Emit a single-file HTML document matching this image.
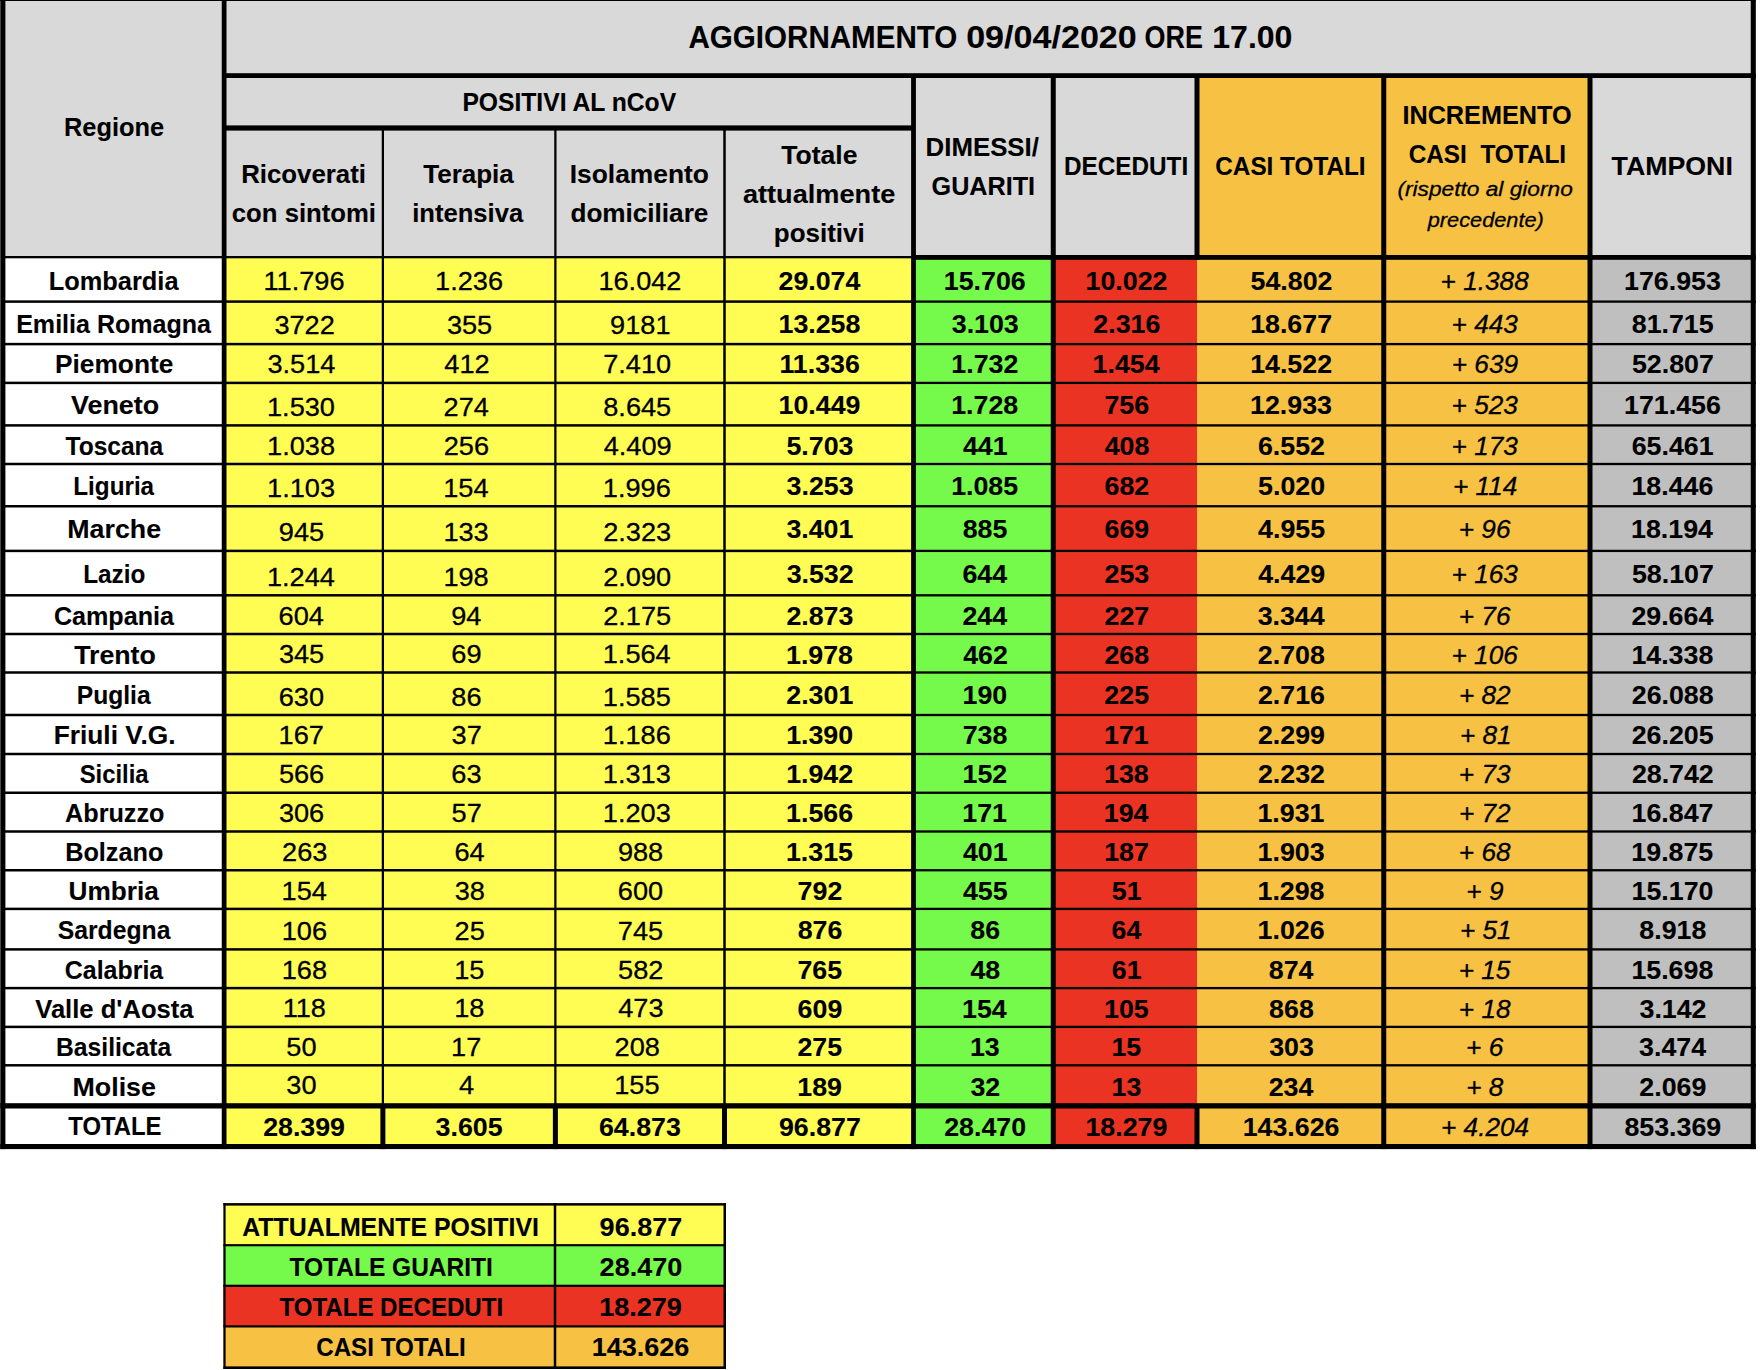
<!DOCTYPE html>
<html lang="it"><head><meta charset="utf-8"><title>Aggiornamento 09/04/2020 ore 17.00</title>
<style>
html,body{margin:0;padding:0;background:#fff;}
body{width:1760px;height:1370px;overflow:hidden;}
svg{display:block;}
svg text{font-family:"Liberation Sans",sans-serif;fill:#000;stroke:#000;white-space:pre;stroke-linejoin:round;}
</style></head><body>
<svg width="1760" height="1370" viewBox="0 0 1760 1370">
<g shape-rendering="auto">
<rect x="0.30" y="0.00" width="1755.50" height="258.00" fill="#D9D9D9"/>
<rect x="1197.00" y="76.00" width="393.00" height="182.00" fill="#F7C243"/>
<rect x="3.00" y="257.50" width="221.00" height="889.00" fill="#fff"/>
<rect x="224.00" y="257.50" width="690.00" height="889.00" fill="#FFFD54"/>
<rect x="914.00" y="257.50" width="139.00" height="889.00" fill="#75FA4C"/>
<rect x="1053.00" y="257.50" width="144.00" height="889.00" fill="#EA3323"/>
<rect x="1197.00" y="257.50" width="393.00" height="889.00" fill="#F7C243"/>
<rect x="1590.00" y="257.50" width="163.00" height="889.00" fill="#BFBFBF"/>
<rect x="0.30" y="0.00" width="1755.50" height="1.00" fill="#000"/>
<rect x="0.30" y="0.00" width="5.10" height="1149.10" fill="#000"/>
<rect x="1750.75" y="0.00" width="5.05" height="1149.10" fill="#000"/>
<rect x="221.75" y="0.00" width="4.75" height="1149.10" fill="#000"/>
<rect x="224.00" y="73.20" width="1531.80" height="4.80" fill="#000"/>
<rect x="224.00" y="125.40" width="690.00" height="5.20" fill="#000"/>
<rect x="381.75" y="127.00" width="2.25" height="978.40" fill="#000"/>
<rect x="380.38" y="1105.00" width="5.00" height="44.10" fill="#000"/>
<rect x="554.25" y="127.00" width="2.25" height="978.40" fill="#000"/>
<rect x="552.88" y="1105.00" width="5.00" height="44.10" fill="#000"/>
<rect x="723.25" y="127.00" width="2.50" height="978.40" fill="#000"/>
<rect x="722.00" y="1105.00" width="5.00" height="44.10" fill="#000"/>
<rect x="911.10" y="76.00" width="4.80" height="1073.10" fill="#000"/>
<rect x="1050.75" y="76.00" width="5.00" height="1073.10" fill="#000"/>
<rect x="1381.25" y="76.00" width="5.00" height="1073.10" fill="#000"/>
<rect x="1587.50" y="76.00" width="5.00" height="1073.10" fill="#000"/>
<rect x="1194.50" y="76.00" width="5.00" height="183.80" fill="#000"/>
<rect x="1194.50" y="1105.00" width="5.00" height="44.10" fill="#000"/>
<rect x="3.00" y="256.00" width="911.00" height="2.30" fill="#000"/>
<rect x="914.00" y="255.00" width="841.80" height="4.80" fill="#000"/>
<rect x="3.00" y="300.35" width="911.00" height="2.50" fill="#000"/>
<rect x="914.00" y="300.45" width="841.80" height="2.30" fill="#000"/>
<rect x="3.00" y="342.85" width="911.00" height="2.50" fill="#000"/>
<rect x="914.00" y="342.95" width="841.80" height="2.30" fill="#000"/>
<rect x="3.00" y="381.65" width="911.00" height="2.50" fill="#000"/>
<rect x="914.00" y="381.75" width="841.80" height="2.30" fill="#000"/>
<rect x="3.00" y="424.15" width="911.00" height="2.50" fill="#000"/>
<rect x="914.00" y="424.25" width="841.80" height="2.30" fill="#000"/>
<rect x="3.00" y="462.75" width="911.00" height="2.50" fill="#000"/>
<rect x="914.00" y="462.85" width="841.80" height="2.30" fill="#000"/>
<rect x="3.00" y="505.00" width="911.00" height="2.50" fill="#000"/>
<rect x="914.00" y="505.10" width="841.80" height="2.30" fill="#000"/>
<rect x="3.00" y="549.65" width="911.00" height="2.50" fill="#000"/>
<rect x="914.00" y="549.75" width="841.80" height="2.30" fill="#000"/>
<rect x="3.00" y="594.05" width="911.00" height="2.50" fill="#000"/>
<rect x="914.00" y="594.15" width="841.80" height="2.30" fill="#000"/>
<rect x="3.00" y="632.75" width="911.00" height="2.50" fill="#000"/>
<rect x="914.00" y="632.85" width="841.80" height="2.30" fill="#000"/>
<rect x="3.00" y="671.25" width="911.00" height="2.50" fill="#000"/>
<rect x="914.00" y="671.35" width="841.80" height="2.30" fill="#000"/>
<rect x="3.00" y="713.75" width="911.00" height="2.50" fill="#000"/>
<rect x="914.00" y="713.85" width="841.80" height="2.30" fill="#000"/>
<rect x="3.00" y="752.75" width="911.00" height="2.50" fill="#000"/>
<rect x="914.00" y="752.85" width="841.80" height="2.30" fill="#000"/>
<rect x="3.00" y="791.50" width="911.00" height="2.50" fill="#000"/>
<rect x="914.00" y="791.60" width="841.80" height="2.30" fill="#000"/>
<rect x="3.00" y="830.25" width="911.00" height="2.50" fill="#000"/>
<rect x="914.00" y="830.35" width="841.80" height="2.30" fill="#000"/>
<rect x="3.00" y="869.00" width="911.00" height="2.50" fill="#000"/>
<rect x="914.00" y="869.10" width="841.80" height="2.30" fill="#000"/>
<rect x="3.00" y="907.65" width="911.00" height="2.50" fill="#000"/>
<rect x="914.00" y="907.75" width="841.80" height="2.30" fill="#000"/>
<rect x="3.00" y="948.15" width="911.00" height="2.50" fill="#000"/>
<rect x="914.00" y="948.25" width="841.80" height="2.30" fill="#000"/>
<rect x="3.00" y="986.85" width="911.00" height="2.50" fill="#000"/>
<rect x="914.00" y="986.95" width="841.80" height="2.30" fill="#000"/>
<rect x="3.00" y="1025.65" width="911.00" height="2.50" fill="#000"/>
<rect x="914.00" y="1025.75" width="841.80" height="2.30" fill="#000"/>
<rect x="3.00" y="1064.05" width="911.00" height="2.50" fill="#000"/>
<rect x="914.00" y="1064.15" width="841.80" height="2.30" fill="#000"/>
<rect x="0.30" y="1103.20" width="1755.50" height="5.30" fill="#000"/>
<rect x="0.30" y="1144.00" width="1755.50" height="5.10" fill="#000"/>
<rect x="223.40" y="1204.40" width="502.60" height="40.80" fill="#FFFD54"/>
<rect x="223.40" y="1245.20" width="502.60" height="40.60" fill="#75FA4C"/>
<rect x="223.40" y="1285.80" width="502.60" height="40.60" fill="#EA3323"/>
<rect x="223.40" y="1326.40" width="502.60" height="41.30" fill="#F7C243"/>
<rect x="223.40" y="1244.10" width="502.60" height="2.20" fill="#000"/>
<rect x="223.40" y="1284.70" width="502.60" height="2.20" fill="#000"/>
<rect x="223.40" y="1325.30" width="502.60" height="2.20" fill="#000"/>
<rect x="223.40" y="1203.10" width="502.60" height="2.50" fill="#000"/>
<rect x="223.40" y="1366.40" width="502.60" height="2.60" fill="#000"/>
<rect x="223.40" y="1203.10" width="2.20" height="165.90" fill="#000"/>
<rect x="553.75" y="1203.10" width="2.50" height="165.90" fill="#000"/>
<rect x="723.50" y="1203.10" width="2.50" height="165.90" fill="#000"/>
</g>
<g>
<text transform="translate(688.51 47.50) scale(0.9637 1)" font-size="30.7" font-weight="bold" stroke-width="0.1">AGGIORNAMENTO</text>
<text transform="translate(966.14 47.50) scale(1.1111 1)" font-size="30.7" font-weight="bold" stroke-width="0.1">09/04/2020</text>
<text transform="translate(1144.52 47.50) scale(0.8775 1)" font-size="30.7" font-weight="bold" stroke-width="0.1">ORE</text>
<text transform="translate(1212.28 47.50) scale(1.0437 1)" font-size="30.7" font-weight="bold" stroke-width="0.1">17.00</text>
<text transform="translate(63.95 135.70) scale(0.9763 1)" font-size="26.0" font-weight="bold" stroke-width="0.1">Regione</text>
<text transform="translate(462.40 110.70) scale(0.9487 1)" font-size="26.0" font-weight="bold" stroke-width="0.1">POSITIVI AL nCoV</text>
<text transform="translate(241.22 182.80) scale(0.9924 1)" font-size="26.0" font-weight="bold" stroke-width="0.1">Ricoverati</text>
<text transform="translate(231.82 222.20) scale(0.9886 1)" font-size="26.0" font-weight="bold" stroke-width="0.1">con sintomi</text>
<text transform="translate(423.24 182.80) scale(1.0002 1)" font-size="26.0" font-weight="bold" stroke-width="0.1">Terapia</text>
<text transform="translate(412.21 222.20) scale(0.9852 1)" font-size="26.0" font-weight="bold" stroke-width="0.1">intensiva</text>
<text transform="translate(569.79 182.70) scale(1.0145 1)" font-size="26.0" font-weight="bold" stroke-width="0.1">Isolamento</text>
<text transform="translate(570.45 222.40) scale(1.0050 1)" font-size="26.0" font-weight="bold" stroke-width="0.1">domiciliare</text>
<text transform="translate(781.23 164.30) scale(1.0211 1)" font-size="26.0" font-weight="bold" stroke-width="0.1">Totale</text>
<text transform="translate(742.89 203.20) scale(1.0446 1)" font-size="26.0" font-weight="bold" stroke-width="0.1">attualmente</text>
<text transform="translate(773.86 241.60) scale(0.9986 1)" font-size="26.0" font-weight="bold" stroke-width="0.1">positivi</text>
<text transform="translate(925.57 155.50) scale(0.9938 1)" font-size="26.0" font-weight="bold" stroke-width="0.1">DIMESSI/</text>
<text transform="translate(931.54 195.30) scale(0.9690 1)" font-size="26.0" font-weight="bold" stroke-width="0.1">GUARITI</text>
<text transform="translate(1064.02 175.00) scale(0.9345 1)" font-size="26.0" font-weight="bold" stroke-width="0.1">DECEDUTI</text>
<text transform="translate(1215.33 175.20) scale(0.9345 1)" font-size="26.0" font-weight="bold" stroke-width="0.1">CASI TOTALI</text>
<text transform="translate(1402.41 124.00) scale(0.9710 1)" font-size="26.0" font-weight="bold" stroke-width="0.1">INCREMENTO</text>
<text transform="translate(1408.68 162.90) scale(0.9375 1)" font-size="26.0" font-weight="bold" stroke-width="0.1">CASI  TOTALI</text>
<text transform="translate(1397.43 195.50) scale(1.0812 1)" font-size="21.0" font-style="italic" stroke-width="0.3">(rispetto al giorno</text>
<text transform="translate(1427.74 227.40) scale(1.0359 1)" font-size="21.0" font-style="italic" stroke-width="0.3">precedente)</text>
<text transform="translate(1611.58 175.00) scale(1.0288 1)" font-size="26.0" font-weight="bold" stroke-width="0.1">TAMPONI</text>
<text transform="translate(48.75 290.20) scale(0.9769 1)" font-size="26.0" font-weight="bold" stroke-width="0.1">Lombardia</text>
<text transform="translate(263.47 290.20) scale(1.0450 1)" font-size="26.0" stroke-width="0.3">11.796</text>
<text transform="translate(435.06 290.20) scale(1.0450 1)" font-size="26.0" stroke-width="0.3">1.236</text>
<text transform="translate(598.39 290.20) scale(1.0450 1)" font-size="26.0" stroke-width="0.3">16.042</text>
<text transform="translate(778.52 290.20) scale(1.0300 1)" font-size="26.0" font-weight="bold" stroke-width="0.1">29.074</text>
<text transform="translate(943.79 290.20) scale(1.0300 1)" font-size="26.0" font-weight="bold" stroke-width="0.1">15.706</text>
<text transform="translate(1085.56 290.20) scale(1.0300 1)" font-size="26.0" font-weight="bold" stroke-width="0.1">10.022</text>
<text transform="translate(1250.56 290.20) scale(1.0300 1)" font-size="26.0" font-weight="bold" stroke-width="0.1">54.802</text>
<text transform="translate(1440.62 290.20) scale(1.0080 1)" font-size="26.0" font-style="italic" stroke-width="0.3">+ 1.388</text>
<text transform="translate(1624.06 290.20) scale(1.0300 1)" font-size="26.0" font-weight="bold" stroke-width="0.1">176.953</text>
<text transform="translate(16.17 332.95) scale(0.9639 1)" font-size="26.0" font-weight="bold" stroke-width="0.1">Emilia Romagna</text>
<text transform="translate(274.41 334.45) scale(1.0450 1)" font-size="26.0" stroke-width="0.3">3722</text>
<text transform="translate(446.88 334.45) scale(1.0450 1)" font-size="26.0" stroke-width="0.3">355</text>
<text transform="translate(610.07 334.45) scale(1.0450 1)" font-size="26.0" stroke-width="0.3">9181</text>
<text transform="translate(778.52 332.95) scale(1.0300 1)" font-size="26.0" font-weight="bold" stroke-width="0.1">13.258</text>
<text transform="translate(951.76 332.95) scale(1.0300 1)" font-size="26.0" font-weight="bold" stroke-width="0.1">3.103</text>
<text transform="translate(1093.33 332.95) scale(1.0300 1)" font-size="26.0" font-weight="bold" stroke-width="0.1">2.316</text>
<text transform="translate(1250.16 332.95) scale(1.0300 1)" font-size="26.0" font-weight="bold" stroke-width="0.1">18.677</text>
<text transform="translate(1451.56 332.95) scale(1.0080 1)" font-size="26.0" font-style="italic" stroke-width="0.3">+ 443</text>
<text transform="translate(1631.76 332.95) scale(1.0300 1)" font-size="26.0" font-weight="bold" stroke-width="0.1">81.715</text>
<text transform="translate(55.04 372.95) scale(1.0114 1)" font-size="26.0" font-weight="bold" stroke-width="0.1">Piemonte</text>
<text transform="translate(267.40 372.70) scale(1.0450 1)" font-size="26.0" stroke-width="0.3">3.514</text>
<text transform="translate(444.29 372.70) scale(1.0450 1)" font-size="26.0" stroke-width="0.3">412</text>
<text transform="translate(603.13 372.70) scale(1.0450 1)" font-size="26.0" stroke-width="0.3">7.410</text>
<text transform="translate(779.40 372.95) scale(1.0300 1)" font-size="26.0" font-weight="bold" stroke-width="0.1">11.336</text>
<text transform="translate(951.36 372.95) scale(1.0300 1)" font-size="26.0" font-weight="bold" stroke-width="0.1">1.732</text>
<text transform="translate(1092.59 372.95) scale(1.0300 1)" font-size="26.0" font-weight="bold" stroke-width="0.1">1.454</text>
<text transform="translate(1250.16 372.95) scale(1.0300 1)" font-size="26.0" font-weight="bold" stroke-width="0.1">14.522</text>
<text transform="translate(1451.76 372.95) scale(1.0080 1)" font-size="26.0" font-style="italic" stroke-width="0.3">+ 639</text>
<text transform="translate(1631.96 372.95) scale(1.0300 1)" font-size="26.0" font-weight="bold" stroke-width="0.1">52.807</text>
<text transform="translate(71.02 413.55) scale(1.0332 1)" font-size="26.0" font-weight="bold" stroke-width="0.1">Veneto</text>
<text transform="translate(266.99 415.70) scale(1.0450 1)" font-size="26.0" stroke-width="0.3">1.530</text>
<text transform="translate(443.61 415.70) scale(1.0450 1)" font-size="26.0" stroke-width="0.3">274</text>
<text transform="translate(603.27 415.70) scale(1.0450 1)" font-size="26.0" stroke-width="0.3">8.645</text>
<text transform="translate(778.59 413.55) scale(1.0300 1)" font-size="26.0" font-weight="bold" stroke-width="0.1">10.449</text>
<text transform="translate(951.22 413.55) scale(1.0300 1)" font-size="26.0" font-weight="bold" stroke-width="0.1">1.728</text>
<text transform="translate(1104.44 413.55) scale(1.0300 1)" font-size="26.0" font-weight="bold" stroke-width="0.1">756</text>
<text transform="translate(1250.09 413.55) scale(1.0300 1)" font-size="26.0" font-weight="bold" stroke-width="0.1">12.933</text>
<text transform="translate(1451.56 413.55) scale(1.0080 1)" font-size="26.0" font-style="italic" stroke-width="0.3">+ 523</text>
<text transform="translate(1624.06 413.55) scale(1.0300 1)" font-size="26.0" font-weight="bold" stroke-width="0.1">171.456</text>
<text transform="translate(65.55 454.70) scale(0.9432 1)" font-size="26.0" font-weight="bold" stroke-width="0.1">Toscana</text>
<text transform="translate(267.06 454.70) scale(1.0450 1)" font-size="26.0" stroke-width="0.3">1.038</text>
<text transform="translate(443.75 454.70) scale(1.0450 1)" font-size="26.0" stroke-width="0.3">256</text>
<text transform="translate(603.68 454.70) scale(1.0450 1)" font-size="26.0" stroke-width="0.3">4.409</text>
<text transform="translate(786.49 454.70) scale(1.0300 1)" font-size="26.0" font-weight="bold" stroke-width="0.1">5.703</text>
<text transform="translate(962.94 454.70) scale(1.0300 1)" font-size="26.0" font-weight="bold" stroke-width="0.1">441</text>
<text transform="translate(1104.71 454.70) scale(1.0300 1)" font-size="26.0" font-weight="bold" stroke-width="0.1">408</text>
<text transform="translate(1257.99 454.70) scale(1.0300 1)" font-size="26.0" font-weight="bold" stroke-width="0.1">6.552</text>
<text transform="translate(1451.56 454.70) scale(1.0080 1)" font-size="26.0" font-style="italic" stroke-width="0.3">+ 173</text>
<text transform="translate(1631.69 454.70) scale(1.0300 1)" font-size="26.0" font-weight="bold" stroke-width="0.1">65.461</text>
<text transform="translate(73.32 495.20) scale(0.9325 1)" font-size="26.0" font-weight="bold" stroke-width="0.1">Liguria</text>
<text transform="translate(267.06 496.85) scale(1.0450 1)" font-size="26.0" stroke-width="0.3">1.103</text>
<text transform="translate(443.27 496.85) scale(1.0450 1)" font-size="26.0" stroke-width="0.3">154</text>
<text transform="translate(602.86 496.85) scale(1.0450 1)" font-size="26.0" stroke-width="0.3">1.996</text>
<text transform="translate(786.56 495.20) scale(1.0300 1)" font-size="26.0" font-weight="bold" stroke-width="0.1">3.253</text>
<text transform="translate(951.16 495.20) scale(1.0300 1)" font-size="26.0" font-weight="bold" stroke-width="0.1">1.085</text>
<text transform="translate(1104.57 495.20) scale(1.0300 1)" font-size="26.0" font-weight="bold" stroke-width="0.1">682</text>
<text transform="translate(1258.06 495.20) scale(1.0300 1)" font-size="26.0" font-weight="bold" stroke-width="0.1">5.020</text>
<text transform="translate(1452.94 495.20) scale(1.0080 1)" font-size="26.0" font-style="italic" stroke-width="0.3">+ 114</text>
<text transform="translate(1631.49 495.20) scale(1.0300 1)" font-size="26.0" font-weight="bold" stroke-width="0.1">18.446</text>
<text transform="translate(67.31 538.45) scale(1.0305 1)" font-size="26.0" font-weight="bold" stroke-width="0.1">Marche</text>
<text transform="translate(278.81 540.55) scale(1.0450 1)" font-size="26.0" stroke-width="0.3">945</text>
<text transform="translate(443.41 540.55) scale(1.0450 1)" font-size="26.0" stroke-width="0.3">133</text>
<text transform="translate(603.20 540.55) scale(1.0450 1)" font-size="26.0" stroke-width="0.3">2.323</text>
<text transform="translate(786.42 538.45) scale(1.0300 1)" font-size="26.0" font-weight="bold" stroke-width="0.1">3.401</text>
<text transform="translate(962.74 538.45) scale(1.0300 1)" font-size="26.0" font-weight="bold" stroke-width="0.1">885</text>
<text transform="translate(1104.51 538.45) scale(1.0300 1)" font-size="26.0" font-weight="bold" stroke-width="0.1">669</text>
<text transform="translate(1258.06 538.45) scale(1.0300 1)" font-size="26.0" font-weight="bold" stroke-width="0.1">4.955</text>
<text transform="translate(1458.77 538.45) scale(1.0080 1)" font-size="26.0" font-style="italic" stroke-width="0.3">+ 96</text>
<text transform="translate(1631.09 538.45) scale(1.0300 1)" font-size="26.0" font-weight="bold" stroke-width="0.1">18.194</text>
<text transform="translate(83.22 583.45) scale(0.9356 1)" font-size="26.0" font-weight="bold" stroke-width="0.1">Lazio</text>
<text transform="translate(266.93 585.55) scale(1.0450 1)" font-size="26.0" stroke-width="0.3">1.244</text>
<text transform="translate(443.41 585.55) scale(1.0450 1)" font-size="26.0" stroke-width="0.3">198</text>
<text transform="translate(603.13 585.55) scale(1.0450 1)" font-size="26.0" stroke-width="0.3">2.090</text>
<text transform="translate(786.63 583.45) scale(1.0300 1)" font-size="26.0" font-weight="bold" stroke-width="0.1">3.532</text>
<text transform="translate(962.40 583.45) scale(1.0300 1)" font-size="26.0" font-weight="bold" stroke-width="0.1">644</text>
<text transform="translate(1104.51 583.45) scale(1.0300 1)" font-size="26.0" font-weight="bold" stroke-width="0.1">253</text>
<text transform="translate(1258.19 583.45) scale(1.0300 1)" font-size="26.0" font-weight="bold" stroke-width="0.1">4.429</text>
<text transform="translate(1451.56 583.45) scale(1.0080 1)" font-size="26.0" font-style="italic" stroke-width="0.3">+ 163</text>
<text transform="translate(1631.96 583.45) scale(1.0300 1)" font-size="26.0" font-weight="bold" stroke-width="0.1">58.107</text>
<text transform="translate(53.89 624.70) scale(0.9668 1)" font-size="26.0" font-weight="bold" stroke-width="0.1">Campania</text>
<text transform="translate(278.61 624.95) scale(1.0450 1)" font-size="26.0" stroke-width="0.3">604</text>
<text transform="translate(451.22 624.95) scale(1.0450 1)" font-size="26.0" stroke-width="0.3">94</text>
<text transform="translate(603.20 624.95) scale(1.0450 1)" font-size="26.0" stroke-width="0.3">2.175</text>
<text transform="translate(786.42 624.70) scale(1.0300 1)" font-size="26.0" font-weight="bold" stroke-width="0.1">2.873</text>
<text transform="translate(962.40 624.70) scale(1.0300 1)" font-size="26.0" font-weight="bold" stroke-width="0.1">244</text>
<text transform="translate(1104.57 624.70) scale(1.0300 1)" font-size="26.0" font-weight="bold" stroke-width="0.1">227</text>
<text transform="translate(1257.66 624.70) scale(1.0300 1)" font-size="26.0" font-weight="bold" stroke-width="0.1">3.344</text>
<text transform="translate(1458.77 624.70) scale(1.0080 1)" font-size="26.0" font-style="italic" stroke-width="0.3">+ 76</text>
<text transform="translate(1631.42 624.70) scale(1.0300 1)" font-size="26.0" font-weight="bold" stroke-width="0.1">29.664</text>
<text transform="translate(74.13 663.70) scale(1.0291 1)" font-size="26.0" font-weight="bold" stroke-width="0.1">Trento</text>
<text transform="translate(278.88 663.05) scale(1.0450 1)" font-size="26.0" stroke-width="0.3">345</text>
<text transform="translate(451.35 663.05) scale(1.0450 1)" font-size="26.0" stroke-width="0.3">69</text>
<text transform="translate(602.73 663.05) scale(1.0450 1)" font-size="26.0" stroke-width="0.3">1.564</text>
<text transform="translate(786.02 663.70) scale(1.0300 1)" font-size="26.0" font-weight="bold" stroke-width="0.1">1.978</text>
<text transform="translate(963.14 663.70) scale(1.0300 1)" font-size="26.0" font-weight="bold" stroke-width="0.1">462</text>
<text transform="translate(1104.44 663.70) scale(1.0300 1)" font-size="26.0" font-weight="bold" stroke-width="0.1">268</text>
<text transform="translate(1257.86 663.70) scale(1.0300 1)" font-size="26.0" font-weight="bold" stroke-width="0.1">2.708</text>
<text transform="translate(1451.50 663.70) scale(1.0080 1)" font-size="26.0" font-style="italic" stroke-width="0.3">+ 106</text>
<text transform="translate(1631.42 663.70) scale(1.0300 1)" font-size="26.0" font-weight="bold" stroke-width="0.1">14.338</text>
<text transform="translate(76.70 704.35) scale(0.9482 1)" font-size="26.0" font-weight="bold" stroke-width="0.1">Puglia</text>
<text transform="translate(278.68 706.20) scale(1.0450 1)" font-size="26.0" stroke-width="0.3">630</text>
<text transform="translate(451.35 706.20) scale(1.0450 1)" font-size="26.0" stroke-width="0.3">86</text>
<text transform="translate(602.86 706.20) scale(1.0450 1)" font-size="26.0" stroke-width="0.3">1.585</text>
<text transform="translate(786.29 704.35) scale(1.0300 1)" font-size="26.0" font-weight="bold" stroke-width="0.1">2.301</text>
<text transform="translate(962.54 704.35) scale(1.0300 1)" font-size="26.0" font-weight="bold" stroke-width="0.1">190</text>
<text transform="translate(1104.37 704.35) scale(1.0300 1)" font-size="26.0" font-weight="bold" stroke-width="0.1">225</text>
<text transform="translate(1257.93 704.35) scale(1.0300 1)" font-size="26.0" font-weight="bold" stroke-width="0.1">2.716</text>
<text transform="translate(1458.96 704.35) scale(1.0080 1)" font-size="26.0" font-style="italic" stroke-width="0.3">+ 82</text>
<text transform="translate(1631.76 704.35) scale(1.0300 1)" font-size="26.0" font-weight="bold" stroke-width="0.1">26.088</text>
<text transform="translate(53.69 744.35) scale(1.0120 1)" font-size="26.0" font-weight="bold" stroke-width="0.1">Friuli V.G.</text>
<text transform="translate(278.54 743.95) scale(1.0450 1)" font-size="26.0" stroke-width="0.3">167</text>
<text transform="translate(451.56 743.95) scale(1.0450 1)" font-size="26.0" stroke-width="0.3">37</text>
<text transform="translate(602.86 743.95) scale(1.0450 1)" font-size="26.0" stroke-width="0.3">1.186</text>
<text transform="translate(786.16 744.35) scale(1.0300 1)" font-size="26.0" font-weight="bold" stroke-width="0.1">1.390</text>
<text transform="translate(962.67 744.35) scale(1.0300 1)" font-size="26.0" font-weight="bold" stroke-width="0.1">738</text>
<text transform="translate(1104.04 744.35) scale(1.0300 1)" font-size="26.0" font-weight="bold" stroke-width="0.1">171</text>
<text transform="translate(1257.93 744.35) scale(1.0300 1)" font-size="26.0" font-weight="bold" stroke-width="0.1">2.299</text>
<text transform="translate(1459.88 744.35) scale(1.0080 1)" font-size="26.0" font-style="italic" stroke-width="0.3">+ 81</text>
<text transform="translate(1631.69 744.35) scale(1.0300 1)" font-size="26.0" font-weight="bold" stroke-width="0.1">26.205</text>
<text transform="translate(79.69 782.95) scale(0.9166 1)" font-size="26.0" font-weight="bold" stroke-width="0.1">Sicilia</text>
<text transform="translate(278.88 783.35) scale(1.0450 1)" font-size="26.0" stroke-width="0.3">566</text>
<text transform="translate(451.28 783.35) scale(1.0450 1)" font-size="26.0" stroke-width="0.3">63</text>
<text transform="translate(602.86 783.35) scale(1.0450 1)" font-size="26.0" stroke-width="0.3">1.313</text>
<text transform="translate(786.16 782.95) scale(1.0300 1)" font-size="26.0" font-weight="bold" stroke-width="0.1">1.942</text>
<text transform="translate(962.54 782.95) scale(1.0300 1)" font-size="26.0" font-weight="bold" stroke-width="0.1">152</text>
<text transform="translate(1104.10 782.95) scale(1.0300 1)" font-size="26.0" font-weight="bold" stroke-width="0.1">138</text>
<text transform="translate(1257.99 782.95) scale(1.0300 1)" font-size="26.0" font-weight="bold" stroke-width="0.1">2.232</text>
<text transform="translate(1458.83 782.95) scale(1.0080 1)" font-size="26.0" font-style="italic" stroke-width="0.3">+ 73</text>
<text transform="translate(1631.89 782.95) scale(1.0300 1)" font-size="26.0" font-weight="bold" stroke-width="0.1">28.742</text>
<text transform="translate(65.02 822.05) scale(0.9705 1)" font-size="26.0" font-weight="bold" stroke-width="0.1">Abruzzo</text>
<text transform="translate(278.88 822.05) scale(1.0450 1)" font-size="26.0" stroke-width="0.3">306</text>
<text transform="translate(451.56 822.05) scale(1.0450 1)" font-size="26.0" stroke-width="0.3">57</text>
<text transform="translate(602.86 822.05) scale(1.0450 1)" font-size="26.0" stroke-width="0.3">1.203</text>
<text transform="translate(786.09 822.05) scale(1.0300 1)" font-size="26.0" font-weight="bold" stroke-width="0.1">1.566</text>
<text transform="translate(962.34 822.05) scale(1.0300 1)" font-size="26.0" font-weight="bold" stroke-width="0.1">171</text>
<text transform="translate(1103.77 822.05) scale(1.0300 1)" font-size="26.0" font-weight="bold" stroke-width="0.1">194</text>
<text transform="translate(1257.46 822.05) scale(1.0300 1)" font-size="26.0" font-weight="bold" stroke-width="0.1">1.931</text>
<text transform="translate(1458.96 822.05) scale(1.0080 1)" font-size="26.0" font-style="italic" stroke-width="0.3">+ 72</text>
<text transform="translate(1631.56 822.05) scale(1.0300 1)" font-size="26.0" font-weight="bold" stroke-width="0.1">16.847</text>
<text transform="translate(65.16 860.85) scale(0.9714 1)" font-size="26.0" font-weight="bold" stroke-width="0.1">Bolzano</text>
<text transform="translate(282.05 861.20) scale(1.0450 1)" font-size="26.0" stroke-width="0.3">263</text>
<text transform="translate(454.45 861.20) scale(1.0450 1)" font-size="26.0" stroke-width="0.3">64</text>
<text transform="translate(617.91 861.20) scale(1.0450 1)" font-size="26.0" stroke-width="0.3">988</text>
<text transform="translate(785.96 860.85) scale(1.0300 1)" font-size="26.0" font-weight="bold" stroke-width="0.1">1.315</text>
<text transform="translate(962.94 860.85) scale(1.0300 1)" font-size="26.0" font-weight="bold" stroke-width="0.1">401</text>
<text transform="translate(1104.24 860.85) scale(1.0300 1)" font-size="26.0" font-weight="bold" stroke-width="0.1">187</text>
<text transform="translate(1257.59 860.85) scale(1.0300 1)" font-size="26.0" font-weight="bold" stroke-width="0.1">1.903</text>
<text transform="translate(1458.83 860.85) scale(1.0080 1)" font-size="26.0" font-style="italic" stroke-width="0.3">+ 68</text>
<text transform="translate(1631.36 860.85) scale(1.0300 1)" font-size="26.0" font-weight="bold" stroke-width="0.1">19.875</text>
<text transform="translate(68.58 899.55) scale(1.0071 1)" font-size="26.0" font-weight="bold" stroke-width="0.1">Umbria</text>
<text transform="translate(281.57 899.95) scale(1.0450 1)" font-size="26.0" stroke-width="0.3">154</text>
<text transform="translate(454.72 899.95) scale(1.0450 1)" font-size="26.0" stroke-width="0.3">38</text>
<text transform="translate(617.78 899.95) scale(1.0450 1)" font-size="26.0" stroke-width="0.3">600</text>
<text transform="translate(797.61 899.55) scale(1.0300 1)" font-size="26.0" font-weight="bold" stroke-width="0.1">792</text>
<text transform="translate(962.94 899.55) scale(1.0300 1)" font-size="26.0" font-weight="bold" stroke-width="0.1">455</text>
<text transform="translate(1111.87 899.55) scale(1.0300 1)" font-size="26.0" font-weight="bold" stroke-width="0.1">51</text>
<text transform="translate(1257.52 899.55) scale(1.0300 1)" font-size="26.0" font-weight="bold" stroke-width="0.1">1.298</text>
<text transform="translate(1466.37 899.55) scale(1.0080 1)" font-size="26.0" font-style="italic" stroke-width="0.3">+ 9</text>
<text transform="translate(1631.56 899.55) scale(1.0300 1)" font-size="26.0" font-weight="bold" stroke-width="0.1">15.170</text>
<text transform="translate(57.76 938.70) scale(0.9516 1)" font-size="26.0" font-weight="bold" stroke-width="0.1">Sardegna</text>
<text transform="translate(281.71 940.35) scale(1.0450 1)" font-size="26.0" stroke-width="0.3">106</text>
<text transform="translate(454.58 940.35) scale(1.0450 1)" font-size="26.0" stroke-width="0.3">25</text>
<text transform="translate(617.85 940.35) scale(1.0450 1)" font-size="26.0" stroke-width="0.3">745</text>
<text transform="translate(797.67 938.70) scale(1.0300 1)" font-size="26.0" font-weight="bold" stroke-width="0.1">876</text>
<text transform="translate(970.30 938.70) scale(1.0300 1)" font-size="26.0" font-weight="bold" stroke-width="0.1">86</text>
<text transform="translate(1111.54 938.70) scale(1.0300 1)" font-size="26.0" font-weight="bold" stroke-width="0.1">64</text>
<text transform="translate(1257.59 938.70) scale(1.0300 1)" font-size="26.0" font-weight="bold" stroke-width="0.1">1.026</text>
<text transform="translate(1459.88 938.70) scale(1.0080 1)" font-size="26.0" font-style="italic" stroke-width="0.3">+ 51</text>
<text transform="translate(1639.33 938.70) scale(1.0300 1)" font-size="26.0" font-weight="bold" stroke-width="0.1">8.918</text>
<text transform="translate(64.80 978.70) scale(0.9588 1)" font-size="26.0" font-weight="bold" stroke-width="0.1">Calabria</text>
<text transform="translate(281.71 978.95) scale(1.0450 1)" font-size="26.0" stroke-width="0.3">168</text>
<text transform="translate(454.25 978.95) scale(1.0450 1)" font-size="26.0" stroke-width="0.3">15</text>
<text transform="translate(618.12 978.95) scale(1.0450 1)" font-size="26.0" stroke-width="0.3">582</text>
<text transform="translate(797.40 978.70) scale(1.0300 1)" font-size="26.0" font-weight="bold" stroke-width="0.1">765</text>
<text transform="translate(970.44 978.70) scale(1.0300 1)" font-size="26.0" font-weight="bold" stroke-width="0.1">48</text>
<text transform="translate(1111.80 978.70) scale(1.0300 1)" font-size="26.0" font-weight="bold" stroke-width="0.1">61</text>
<text transform="translate(1268.77 978.70) scale(1.0300 1)" font-size="26.0" font-weight="bold" stroke-width="0.1">874</text>
<text transform="translate(1458.70 978.70) scale(1.0080 1)" font-size="26.0" font-style="italic" stroke-width="0.3">+ 15</text>
<text transform="translate(1631.42 978.70) scale(1.0300 1)" font-size="26.0" font-weight="bold" stroke-width="0.1">15.698</text>
<text transform="translate(35.22 1018.05) scale(0.9848 1)" font-size="26.0" font-weight="bold" stroke-width="0.1">Valle d&#x27;Aosta</text>
<text transform="translate(282.66 1017.05) scale(1.0450 1)" font-size="26.0" stroke-width="0.3">118</text>
<text transform="translate(454.25 1017.05) scale(1.0450 1)" font-size="26.0" stroke-width="0.3">18</text>
<text transform="translate(618.25 1017.05) scale(1.0450 1)" font-size="26.0" stroke-width="0.3">473</text>
<text transform="translate(797.61 1018.05) scale(1.0300 1)" font-size="26.0" font-weight="bold" stroke-width="0.1">609</text>
<text transform="translate(962.07 1018.05) scale(1.0300 1)" font-size="26.0" font-weight="bold" stroke-width="0.1">154</text>
<text transform="translate(1104.04 1018.05) scale(1.0300 1)" font-size="26.0" font-weight="bold" stroke-width="0.1">105</text>
<text transform="translate(1269.11 1018.05) scale(1.0300 1)" font-size="26.0" font-weight="bold" stroke-width="0.1">868</text>
<text transform="translate(1458.83 1018.05) scale(1.0080 1)" font-size="26.0" font-style="italic" stroke-width="0.3">+ 18</text>
<text transform="translate(1639.53 1018.05) scale(1.0300 1)" font-size="26.0" font-weight="bold" stroke-width="0.1">3.142</text>
<text transform="translate(56.05 1056.20) scale(0.9492 1)" font-size="26.0" font-weight="bold" stroke-width="0.1">Basilicata</text>
<text transform="translate(286.35 1055.95) scale(1.0450 1)" font-size="26.0" stroke-width="0.3">50</text>
<text transform="translate(451.08 1055.95) scale(1.0450 1)" font-size="26.0" stroke-width="0.3">17</text>
<text transform="translate(614.55 1055.95) scale(1.0450 1)" font-size="26.0" stroke-width="0.3">208</text>
<text transform="translate(797.47 1056.20) scale(1.0300 1)" font-size="26.0" font-weight="bold" stroke-width="0.1">275</text>
<text transform="translate(969.90 1056.20) scale(1.0300 1)" font-size="26.0" font-weight="bold" stroke-width="0.1">13</text>
<text transform="translate(1111.47 1056.20) scale(1.0300 1)" font-size="26.0" font-weight="bold" stroke-width="0.1">15</text>
<text transform="translate(1269.24 1056.20) scale(1.0300 1)" font-size="26.0" font-weight="bold" stroke-width="0.1">303</text>
<text transform="translate(1466.11 1056.20) scale(1.0080 1)" font-size="26.0" font-style="italic" stroke-width="0.3">+ 6</text>
<text transform="translate(1639.06 1056.20) scale(1.0300 1)" font-size="26.0" font-weight="bold" stroke-width="0.1">3.474</text>
<text transform="translate(72.46 1096.20) scale(1.0325 1)" font-size="26.0" font-weight="bold" stroke-width="0.1">Molise</text>
<text transform="translate(286.35 1093.95) scale(1.0450 1)" font-size="26.0" stroke-width="0.3">30</text>
<text transform="translate(459.10 1093.95) scale(1.0450 1)" font-size="26.0" stroke-width="0.3">4</text>
<text transform="translate(614.21 1093.95) scale(1.0450 1)" font-size="26.0" stroke-width="0.3">155</text>
<text transform="translate(797.27 1096.20) scale(1.0300 1)" font-size="26.0" font-weight="bold" stroke-width="0.1">189</text>
<text transform="translate(970.44 1096.20) scale(1.0300 1)" font-size="26.0" font-weight="bold" stroke-width="0.1">32</text>
<text transform="translate(1111.60 1096.20) scale(1.0300 1)" font-size="26.0" font-weight="bold" stroke-width="0.1">13</text>
<text transform="translate(1268.70 1096.20) scale(1.0300 1)" font-size="26.0" font-weight="bold" stroke-width="0.1">234</text>
<text transform="translate(1466.17 1096.20) scale(1.0080 1)" font-size="26.0" font-style="italic" stroke-width="0.3">+ 8</text>
<text transform="translate(1639.33 1096.20) scale(1.0300 1)" font-size="26.0" font-weight="bold" stroke-width="0.1">2.069</text>
<text transform="translate(68.31 1134.70) scale(0.9177 1)" font-size="26.0" font-weight="bold" stroke-width="0.1">TOTALE</text>
<text transform="translate(263.13 1135.55) scale(1.0300 1)" font-size="26.0" font-weight="bold" stroke-width="0.1">28.399</text>
<text transform="translate(435.62 1135.55) scale(1.0300 1)" font-size="26.0" font-weight="bold" stroke-width="0.1">3.605</text>
<text transform="translate(598.93 1135.55) scale(1.0300 1)" font-size="26.0" font-weight="bold" stroke-width="0.1">64.873</text>
<text transform="translate(778.99 1135.55) scale(1.0300 1)" font-size="26.0" font-weight="bold" stroke-width="0.1">96.877</text>
<text transform="translate(944.19 1135.55) scale(1.0300 1)" font-size="26.0" font-weight="bold" stroke-width="0.1">28.470</text>
<text transform="translate(1085.49 1135.55) scale(1.0300 1)" font-size="26.0" font-weight="bold" stroke-width="0.1">18.279</text>
<text transform="translate(1242.66 1135.55) scale(1.0300 1)" font-size="26.0" font-weight="bold" stroke-width="0.1">143.626</text>
<text transform="translate(1441.01 1135.55) scale(1.0080 1)" font-size="26.0" font-style="italic" stroke-width="0.3">+ 4.204</text>
<text transform="translate(1624.46 1135.55) scale(1.0300 1)" font-size="26.0" font-weight="bold" stroke-width="0.1">853.369</text>
<text transform="translate(242.23 1235.80) scale(0.9577 1)" font-size="26.0" font-weight="bold" stroke-width="0.1">ATTUALMENTE POSITIVI</text>
<text transform="translate(289.45 1275.50) scale(0.9433 1)" font-size="26.0" font-weight="bold" stroke-width="0.1">TOTALE GUARITI</text>
<text transform="translate(279.41 1316.40) scale(0.9257 1)" font-size="26.0" font-weight="bold" stroke-width="0.1">TOTALE DECEDUTI</text>
<text transform="translate(316.18 1356.10) scale(0.9300 1)" font-size="26.0" font-weight="bold" stroke-width="0.1">CASI TOTALI</text>
<text transform="translate(599.60 1235.80) scale(1.0400 1)" font-size="26.0" font-weight="bold" stroke-width="0.1">96.877</text>
<text transform="translate(599.60 1275.50) scale(1.0400 1)" font-size="26.0" font-weight="bold" stroke-width="0.1">28.470</text>
<text transform="translate(599.19 1316.40) scale(1.0400 1)" font-size="26.0" font-weight="bold" stroke-width="0.1">18.279</text>
<text transform="translate(591.69 1356.10) scale(1.0400 1)" font-size="26.0" font-weight="bold" stroke-width="0.1">143.626</text>
</g>
</svg>
</body></html>
